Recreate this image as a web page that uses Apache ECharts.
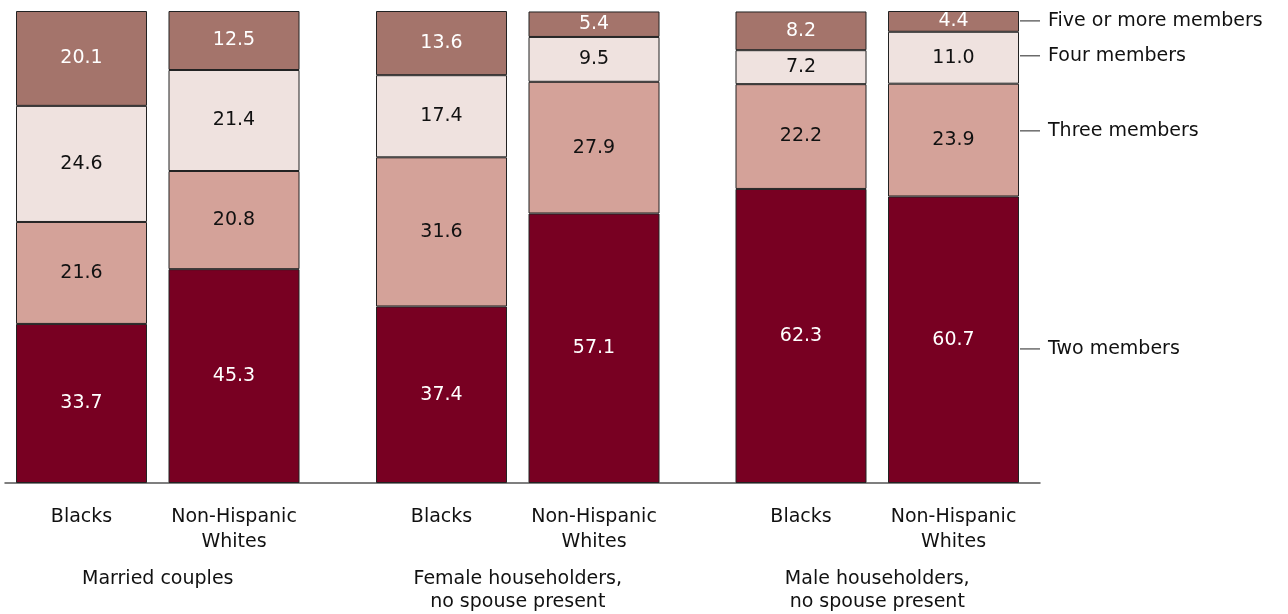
<!DOCTYPE html>
<html><head><meta charset="utf-8">
<script src="https://cdn.jsdelivr.net/npm/echarts@6/dist/echarts.min.js"></script>
<style>html,body{margin:0;padding:0;background:#fff}#c{width:1288px;height:614px}</style>
</head><body><div id="c"></div>
<script>
const groups = ['Married couples', 'Female householders,\nno spouse present', 'Male householders,\nno spouse present'];
const races = ['Blacks', 'Non-Hispanic\nWhites'];
const seriesNames = ['Two members', 'Three members', 'Four members', 'Five or more members'];
const twoMembers   = [33.7, 45.3, 37.4, 57.1, 62.3, 60.7];
const threeMembers = [21.6, 20.8, 31.6, 27.9, 22.2, 23.9];
const fourMembers  = [24.6, 21.4, 17.4,  9.5,  7.2, 11.0];
const fiveMembers  = [20.1, 12.5, 13.6,  5.4,  8.2,  4.4];
// y-level (percent) where each right-hand label points
const legendAnchors = [28.4, 74.6, 90.5, 97.9];

const values = [twoMembers, threeMembers, fourMembers, fiveMembers];
const colors = ['#780022', '#d4a299', '#efe2df', '#a4746b'];
const labelColors = ['#ffffff', '#111111', '#111111', '#ffffff'];
const FONT = 'DejaVu Sans';
const FS = 19;

const gridLefts = [5.25, 365.25, 724.75];
const grids = [], xAxes = [], yAxes = [], series = [];
groups.forEach((g, gi) => {
  grids.push({left: gridLefts[gi], width: 305, top: 11, bottom: 131, containLabel: false, outerBoundsMode: 'none'});
  xAxes.push({
    type: 'category', gridIndex: gi, data: races,
    axisLine: {show: false}, axisTick: {show: false},
    axisLabel: {margin: 22, fontFamily: FONT, fontSize: FS, color: '#111', lineHeight: 25, interval: 0},
    name: g, nameLocation: 'middle', nameGap: 85,
    nameTextStyle: {fontFamily: FONT, fontSize: FS, color: '#111', lineHeight: 23, verticalAlign: 'top'}
  });
  yAxes.push({type: 'value', gridIndex: gi, min: 0, max: 100, show: false});
  values.forEach((arr, si) => {
    series.push({
      type: 'bar', name: seriesNames[si], xAxisIndex: gi, yAxisIndex: gi,
      stack: 'g' + gi, barWidth: 131,
      data: arr.slice(gi * 2, gi * 2 + 2),
      itemStyle: {color: colors[si], borderColor: '#222', borderWidth: 1},
      label: {show: true, position: 'inside', fontFamily: FONT, fontSize: FS, color: labelColors[si],
        formatter: p => p.value.toFixed(1)},
      emphasis: {disabled: true}, animation: false
    });
  });
});
// baseline spanning all groups
grids.push({left: 5, width: 1035, top: 11, bottom: 131, containLabel: false, outerBoundsMode: 'none'});
xAxes.push({type: 'value', gridIndex: 3, min: 0, max: 1, axisLine: {show: true, lineStyle: {color: '#555', width: 1.5}},
  axisTick: {show: false}, axisLabel: {show: false}, splitLine: {show: false}});
yAxes.push({type: 'value', gridIndex: 3, min: 0, max: 100, show: false});

const chart = echarts.init(document.getElementById('c'), null, {renderer: 'canvas'});
chart.setOption({animation: false, grid: grids, xAxis: xAxes, yAxis: yAxes, series: series});

const graphics = [];
seriesNames.forEach((n, i) => {
  const p = chart.convertToPixel({xAxisIndex: 3, yAxisIndex: 3}, [1, legendAnchors[i]]);
  graphics.push({type: 'line', shape: {x1: p[0] - 20, y1: p[1], x2: p[0], y2: p[1]}, style: {stroke: '#222', lineWidth: 1}});
  graphics.push({type: 'text', x: p[0] + 8, y: p[1], style: {text: n, font: FS + 'px "' + FONT + '"', fill: '#111', verticalAlign: 'middle'}});
});
chart.setOption({graphic: graphics});
</script></body></html>
